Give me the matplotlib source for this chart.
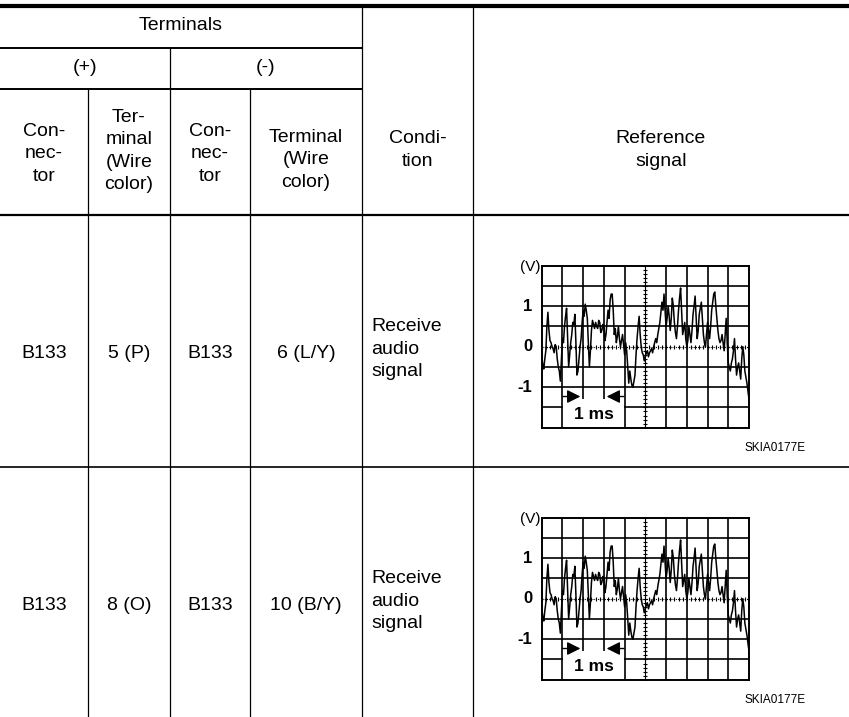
import numpy as np
import matplotlib.pyplot as plt
from matplotlib.patches import Rectangle

plt.rcParams['font.family'] = ['Liberation Sans', 'DejaVu Sans']

# Table text
top_header = 'Terminals'
polarity = ['(+)', '(-)']
sub_header = ['Con-\nnec-\ntor', 'Ter-\nminal\n(Wire\ncolor)', 'Con-\nnec-\ntor', 'Terminal\n(Wire\ncolor)']
condition_header = 'Condi-\ntion'
signal_header = 'Reference\nsignal'

plus_connector = ['B133', 'B133']
plus_terminal = ['5 (P)', '8 (O)']
minus_connector = ['B133', 'B133']
minus_terminal = ['6 (L/Y)', '10 (B/Y)']
conditions = ['Receive\naudio\nsignal', 'Receive\naudio\nsignal']
figure_code = 'SKIA0177E'

# Scope trace (1 ms/div, 0.5 V/div), one value every 0.05 ms
time_ms = np.linspace(0, 10, 201)
volts = [-0.2, -0.45, -0.55, -0.3, -0.1, 0.5, 0.85, 0.4, 0.15, 0.1,
         0.0, -0.05, -0.15, 0.05, 0.0, -0.3, -0.5, -0.6, -0.85, -0.3,
         0.2, 0.1, 0.5, 0.75, 0.95, 0.2, -0.5, -0.2, 0.1, 0.3,
         0.6, 0.55, 0.8, 0.1, -0.7, -0.6, -0.3, 0.0, 0.2, 0.6,
         0.9, 0.75, 1.05, 0.9, 0.7, 0.1, -0.5, -0.1, 0.4, 0.65,
         0.55, 0.45, 0.6, 0.5, 0.45, 0.65, 0.6, 0.35, 0.4, 0.55,
         0.5, 0.15, 0.3, 0.6, 0.9, 0.7, 1.15, 1.3, 1.3, 0.9,
         0.3, 0.45, 0.1, 0.25, 0.5, 0.2, 0.0, 0.15, 0.3, 0.05,
         -0.2, 0.1, -0.1, -0.5, -0.9, -0.6, -0.8, -0.95, -1.0, -0.85,
         -0.7, -0.2, 0.2, 0.5, 0.75, 0.3, 0.0, -0.15, -0.2, -0.35,
         -0.25, -0.15, -0.1, -0.25, -0.15, -0.1, -0.05, -0.15, 0.0, 0.1,
         0.2, 0.1, 0.3, 0.45, 0.6, 0.85, 1.1, 0.9, 1.3, 0.9,
         0.5, 0.7, 1.0, 0.75, 0.4, 0.7, 1.2, 1.0, 0.6, 0.35,
         0.2, 0.5, 0.9, 1.2, 1.45, 0.9, 0.3, 0.45, 0.6, 0.2,
         0.0, 0.15, 0.5, 0.3, 0.1, 0.4, 0.8, 1.0, 1.25, 0.7,
         0.2, 0.4, 0.8, 0.95, 1.1, 0.7, 0.3, 0.1, 0.0, 0.3,
         0.6, 0.4, 0.2, 0.5, 0.9, 1.1, 1.3, 1.35, 1.0, 0.7,
         0.4, 0.2, 0.1, 0.15, 0.3, 0.1, -0.1, 0.3, 0.7, 0.1,
         -0.4, -0.5, -0.6, -0.4, -0.3, -0.1, 0.2, -0.3, -0.7, -0.5,
         -0.4, -0.6, -0.8, -0.3, 0.0, -0.2, -0.6, -0.75, -0.9, -1.1,
         -1.3]

W, H = 849, 717
fig = plt.figure(figsize=(W / 100, H / 100), dpi=100)
ax = fig.add_axes([0, 0, 1, 1])
ax.set_xlim(0, W)
ax.set_ylim(H, 0)
ax.axis('off')

# table grid (pixel layout)
col_x = [0, 88, 170, 250, 362, 473, W]
y_top, y_term, y_pol, y_head, y_row = 6, 48, 89, 215, 467
row_tops = [y_head, y_row]

ax.hlines(y_top, 0, W, color='black', lw=3.0)
ax.hlines([y_term, y_pol], 0, col_x[4], color='black', lw=1.4)
ax.hlines(y_head, 0, W, color='black', lw=1.6)
ax.hlines(y_row, 0, W, color='black', lw=1.2)
ax.vlines(col_x[1], y_pol, H, color='black', lw=0.9)
ax.vlines(col_x[2], y_term, H, color='black', lw=0.9)
ax.vlines(col_x[3], y_pol, H, color='black', lw=0.9)
ax.vlines(col_x[4], y_top, H, color='black', lw=0.9)
ax.vlines(col_x[5], y_top, H, color='black', lw=0.9)

fs = 14
ls = 1.4
ax.text(col_x[4] / 2, 26, top_header, ha='center', va='center', fontsize=fs)
ax.text((col_x[0] + col_x[2]) / 2, 68, polarity[0], ha='center', va='center', fontsize=fs)
ax.text((col_x[2] + col_x[4]) / 2, 68, polarity[1], ha='center', va='center', fontsize=fs)
sub_y = [154, 151, 154, 160]
for i, txt in enumerate(sub_header):
    ax.text((col_x[i] + col_x[i + 1]) / 2, sub_y[i], txt, ha='center', va='center',
            fontsize=fs, linespacing=ls)
ax.text((col_x[4] + col_x[5]) / 2, 150, condition_header, ha='center', va='center',
        fontsize=fs, linespacing=ls)
ax.text((col_x[5] + col_x[6]) / 2, 150, signal_header, ha='center', va='center',
        fontsize=fs, linespacing=ls)

# data rows
for r, top in enumerate(row_tops):
    yc = top + 138
    ax.text((col_x[0] + col_x[1]) / 2, yc, plus_connector[r], ha='center', va='center', fontsize=fs)
    ax.text((col_x[1] + col_x[2]) / 2, yc, plus_terminal[r], ha='center', va='center', fontsize=fs)
    ax.text((col_x[2] + col_x[3]) / 2, yc, minus_connector[r], ha='center', va='center', fontsize=fs)
    ax.text((col_x[3] + col_x[4]) / 2, yc, minus_terminal[r], ha='center', va='center', fontsize=fs)
    ax.text(col_x[4] + 9, yc - 4, conditions[r], ha='left', va='center', fontsize=fs,
            linespacing=ls)
    ax.text(745, top + 233, figure_code, ha='left', va='center', fontsize=8.5)

    # oscilloscope screen
    gx0, gx1 = 541.7, 749.0
    gy0 = top + 50.7
    gy1 = gy0 + 162
    sc = fig.add_axes([gx0 / W, 1 - gy1 / H, (gx1 - gx0) / W, (gy1 - gy0) / H])
    sc.set_xlim(0, 10)
    sc.set_ylim(-2, 2)
    sc.set_xticks([])
    sc.set_yticks([])
    for s in sc.spines.values():
        s.set_linewidth(1.4)
    for t in [1, 2, 3, 4, 6, 7, 8, 9]:
        sc.axvline(t, color='black', lw=1.2, zorder=1)
    for v in [-1.5, -1, -0.5, 0.5, 1, 1.5]:
        sc.axhline(v, color='black', lw=1.2, zorder=1)
    # centre axes with small ruler ticks
    sc.axvline(5, color='black', lw=0.8, zorder=1)
    sc.axhline(0, color='black', lw=0.8, ls=(0, (1, 1)), zorder=1)
    sc.plot(np.full(41, 5.0), np.linspace(-2, 2, 41), ls='none', marker='_', ms=3,
            color='black', mew=0.8, zorder=1)
    sc.plot(np.linspace(0, 10, 51), np.zeros(51), ls='none', marker='|', ms=3,
            color='black', mew=0.8, zorder=1)

    # 1 ms scale box
    sc.add_patch(Rectangle((1.04, -2), 2.92, 0.7, facecolor='white', edgecolor='none', zorder=2))
    sc.annotate('', xy=(2, -1.23), xytext=(0.88, -1.23),
                arrowprops=dict(arrowstyle='-|>', color='black', lw=1.0, mutation_scale=20),
                zorder=3)
    sc.annotate('', xy=(3, -1.23), xytext=(4.1, -1.23),
                arrowprops=dict(arrowstyle='-|>', color='black', lw=1.0, mutation_scale=20),
                zorder=3)
    sc.text(2.5, -1.67, '1 ms', ha='center', va='center', fontsize=12.5, fontweight='bold', zorder=3)

    sc.plot(time_ms, volts, color='black', lw=1.1, zorder=4)

    for v, lab in zip([1, 0, -1], ['1', '0', '-1']):
        sc.text(-0.45, v, lab, ha='right', va='center', fontsize=12, fontweight='bold',
                clip_on=False)
    sc.text(-0.55, 1.97, '(V)', ha='center', va='center', fontsize=11, clip_on=False)

fig.savefig('out.png', dpi=100)
